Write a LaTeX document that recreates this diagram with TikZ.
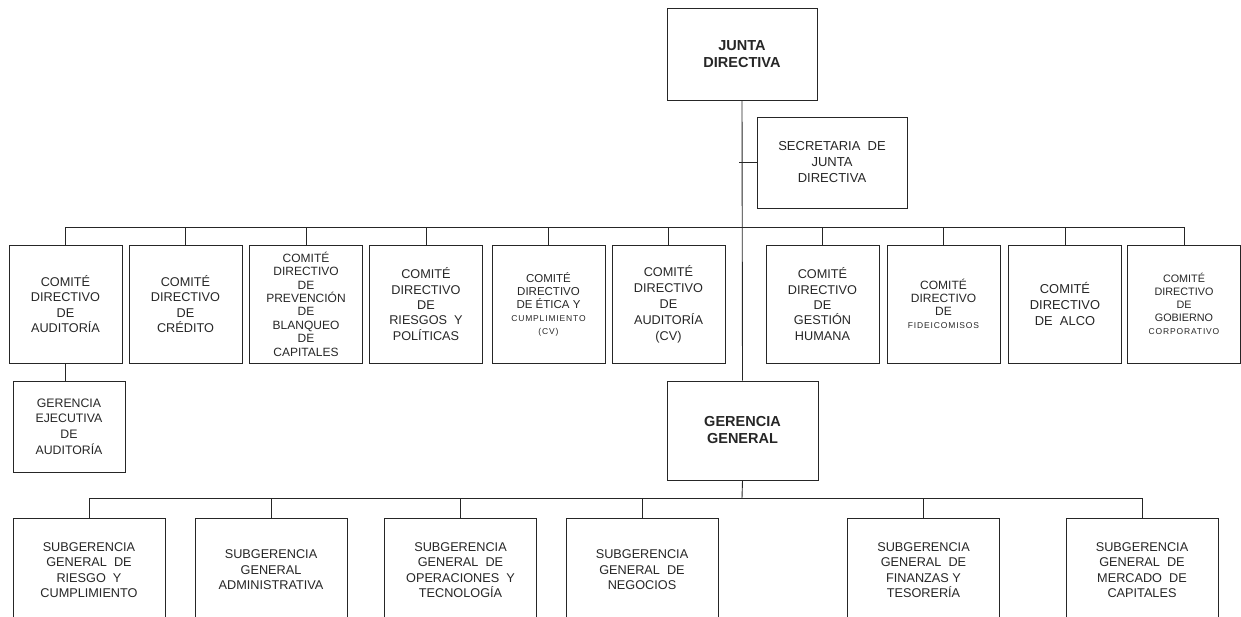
\documentclass[tikz,border=0pt]{standalone}
\usepackage{fontspec}
\setmainfont{Liberation Sans}
\newcommand\chica[1]{{\fontsize{8.5}{10}\selectfont\addfontfeatures{LetterSpace=10}#1}}
\begin{document}
\begin{tikzpicture}[x=1pt, y=-1pt, line width=0.9pt, color=black!85,
  box/.style = {draw, align=center, inner sep=1pt},
  jefe/.style = {box, minimum width=150pt, minimum height=92pt,
    font=\fontsize{14.5}{17}\selectfont\bfseries},
  comite/.style = {box, minimum width=113pt, minimum height=118pt,
    font=\fontsize{12.7}{15.4}\selectfont},
  comitechico/.style = {comite, font=\fontsize{11.5}{13}\selectfont},
  subger/.style = {box, minimum width=152pt, minimum height=104pt,
    font=\fontsize{12.7}{15.4}\selectfont}]
  \useasboundingbox (0,0) rectangle (1241,616);

  % cabeza
  \node[jefe] (junta) at (742,54) {JUNTA\\DIRECTIVA};
  \node[box, minimum width=150pt, minimum height=91pt,
    font=\fontsize{13}{16}\selectfont] (secr) at (832,162.5)
    {SECRETARIA~~DE\\JUNTA\\DIRECTIVA};
  \node[jefe, minimum width=151pt, minimum height=99pt] (gg) at (742.5,430.5)
    {GERENCIA\\GENERAL};

  % comites
  \node[comite] (c1) at (65.5,304) {COMITÉ\\DIRECTIVO\\DE\\AUDITORÍA};
  \node[comite] (c2) at (185.5,304) {COMITÉ\\DIRECTIVO\\DE\\CRÉDITO};
  \node[comite, font=\fontsize{12}{13.4}\selectfont] (c3) at (306,304)
    {COMITÉ\\DIRECTIVO\\DE\\PREVENCIÓN\\DE\\BLANQUEO\\DE\\CAPITALES};
  \node[comite] (c4) at (426,304) {COMITÉ\\DIRECTIVO\\DE\\RIESGOS~~Y\\POLÍTICAS};
  \node[comitechico] (c5) at (548.5,304)
    {COMITÉ\\DIRECTIVO\\DE ÉTICA Y\\\chica{CUMPLIMIENTO}\\\chica{(CV)}};
  \node[comite, font=\fontsize{12.7}{16}\selectfont] (c6) at (668.5,304)
    {COMITÉ\\DIRECTIVO\\DE\\AUDITORÍA\\(CV)};
  \node[comite] (c7) at (822.5,304) {COMITÉ\\DIRECTIVO\\DE\\GESTIÓN\\HUMANA};
  \node[comitechico, font=\fontsize{12}{13}\selectfont] (c8) at (943.5,304)
    {COMITÉ\\DIRECTIVO\\DE\\\chica{FIDEICOMISOS}};
  \node[comite, font=\fontsize{12.9}{16}\selectfont] (c9) at (1065,304)
    {COMITÉ\\DIRECTIVO\\DE~~ALCO};
  \node[comitechico, font=\fontsize{10.8}{13}\selectfont] (c10) at (1184,304)
    {COMITÉ\\DIRECTIVO\\DE\\GOBIERNO\\\chica{CORPORATIVO}};

  \node[comite, minimum width=112pt, minimum height=91pt,
    font=\fontsize{12.3}{15.7}\selectfont] (gea) at (69,426.5)
    {GERENCIA\\EJECUTIVA\\DE\\AUDITORÍA};

  % subgerencias
  \node[subger] (s1) at (89,570) {SUBGERENCIA\\GENERAL~~DE\\RIESGO~~Y\\CUMPLIMIENTO};
  \node[subger] (s2) at (271,570) {SUBGERENCIA\\GENERAL\\ADMINISTRATIVA};
  \node[subger] (s3) at (460.5,570) {SUBGERENCIA\\GENERAL~~DE\\OPERACIONES~~Y\\TECNOLOGÍA};
  \node[subger] (s4) at (642,570) {SUBGERENCIA\\GENERAL~~DE\\NEGOCIOS};
  \node[subger] (s5) at (923.5,570) {SUBGERENCIA\\GENERAL~~DE\\FINANZAS Y\\TESORERÍA};
  \node[subger] (s6) at (1142,570) {SUBGERENCIA\\GENERAL~~DE\\MERCADO~~DE\\CAPITALES};

  % lineas
  \coordinate (bus1) at (742,227);
  \coordinate (bus2) at (742,498);
  \coordinate (tick) at ([xshift=-3pt]junta.south |- secr.west);
  \draw (junta.south) -- (gg.north);
  \draw (secr.west) -- (tick);
  \draw (c1.north |- bus1) -- (c10.north |- bus1);
  \foreach \i in {1,...,10}
    \draw (c\i.north) -- (c\i.north |- bus1);
  \draw (c1.south) -- (c1.south |- gea.north);
  \draw (gg.south) -- (bus2);
  \draw (s1.north |- bus2) -- (s6.north |- bus2);
  \foreach \i in {1,...,6}
    \draw (s\i.north) -- (s\i.north |- bus2);
\end{tikzpicture}
\end{document}
